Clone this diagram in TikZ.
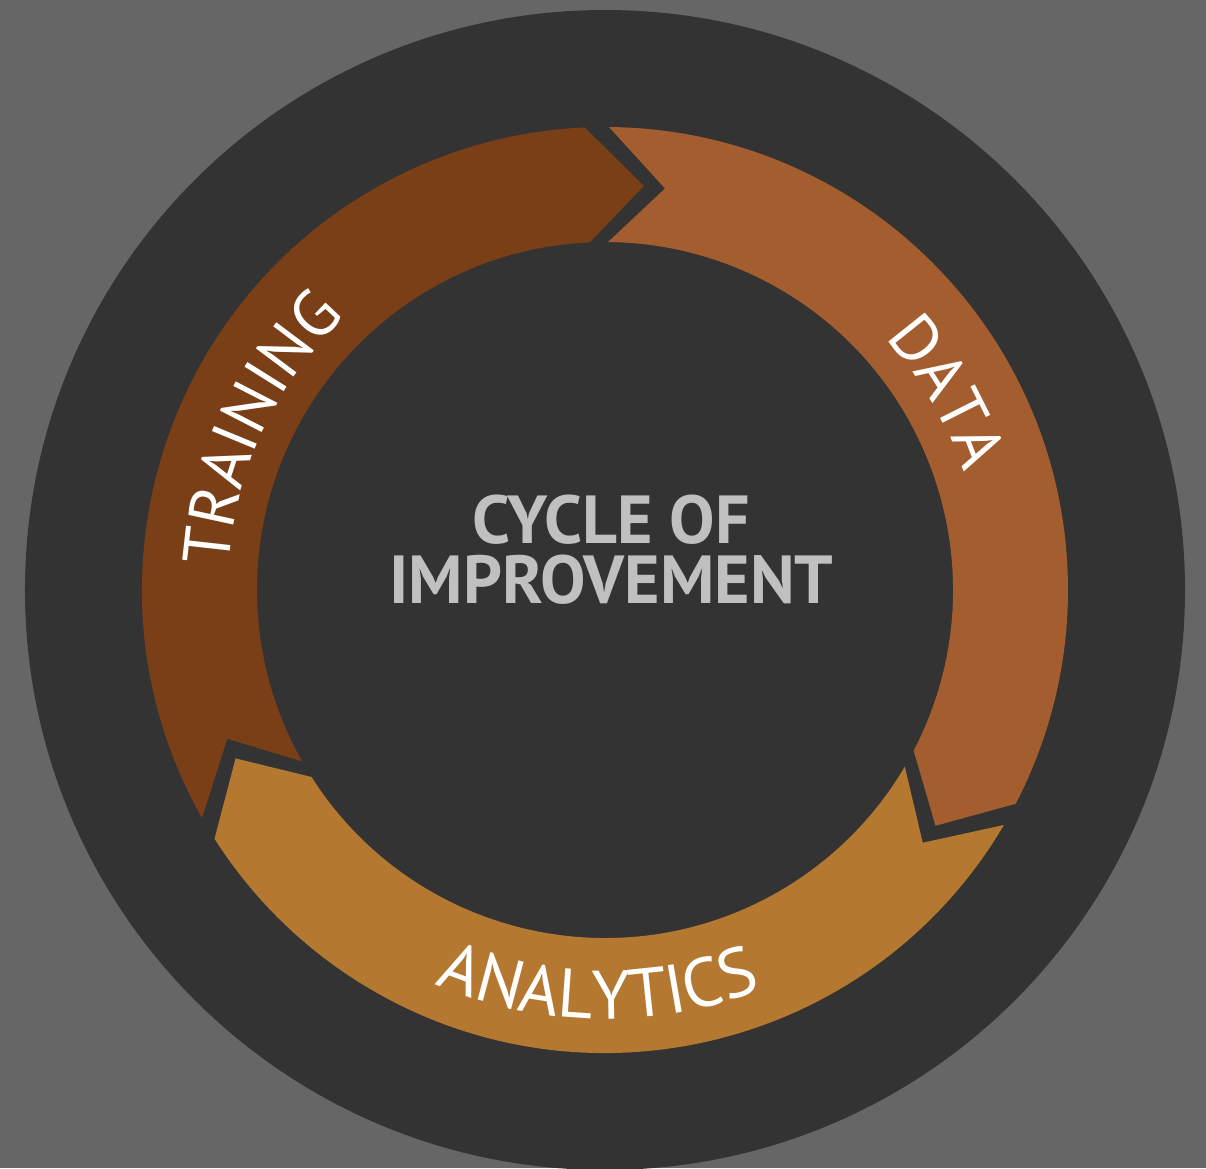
\documentclass[tikz,border=0pt]{standalone}
\usepackage{fontspec}
\setmainfont{PT Sans}
\usetikzlibrary{decorations.text}
\definecolor{bggray}{HTML}{666666}
\definecolor{darkring}{HTML}{333333}
\definecolor{trainc}{HTML}{7B3F17}
\definecolor{datac}{HTML}{A45D2F}
\definecolor{analc}{HTML}{B47830}
\definecolor{centertext}{HTML}{C0C0C0}
\newcommand{\lblfont}{\fontsize{66}{66}\selectfont\color{white}}
\newcommand{\lblfontb}{\fontsize{69}{69}\selectfont\color{white}}
\tikzset{
  arrowseg/.style={fill=#1, draw=none},
  centerlbl/.style={text=centertext, inner sep=0pt, font=\fontsize{68}{68}\selectfont\bfseries},
}
\begin{document}
\begin{tikzpicture}[x=1pt,y=1pt]
\fill[bggray] (-605,-578) rectangle (601,590);
\useasboundingbox (-605,-578) rectangle (601,590);
\fill[darkring] (0,0) circle[radius=580];
\foreach \t/\c in {209.5/trainc, 89.5/datac, -30.5/analc} {
  \pgfmathsetmacro\h{\t-117}
  \path[arrowseg=\c] (\t:463) arc[start angle=\t, end angle=\h, radius=463]
     -- (\h-8:406) -- (\h:348) arc[start angle=\h, end angle=\t, radius=348]
     -- (\t-8:406) -- cycle;
}
\path[decorate, decoration={text along path, text align=center,
   text={|\lblfont|TRAINING}}]
   (200:377) arc[start angle=200, end angle=110, radius=377];
\path[decorate, decoration={text along path, text align=center,
   text={|\lblfont|DATA}}]
   (75:377) arc[start angle=75, end angle=-15, radius=377];
\path[decorate, decoration={text along path, text align=center,
   text={|\lblfontb|ANALYTICS}}]
   (-136:429) arc[start angle=-136, end angle=-46, radius=429];
\node[centerlbl] (line1) at (6.5,70) {CYCLE OF};
\node[centerlbl] (line2) at (6.5,10) {IMPROVEMENT};
\end{tikzpicture}
\end{document}
